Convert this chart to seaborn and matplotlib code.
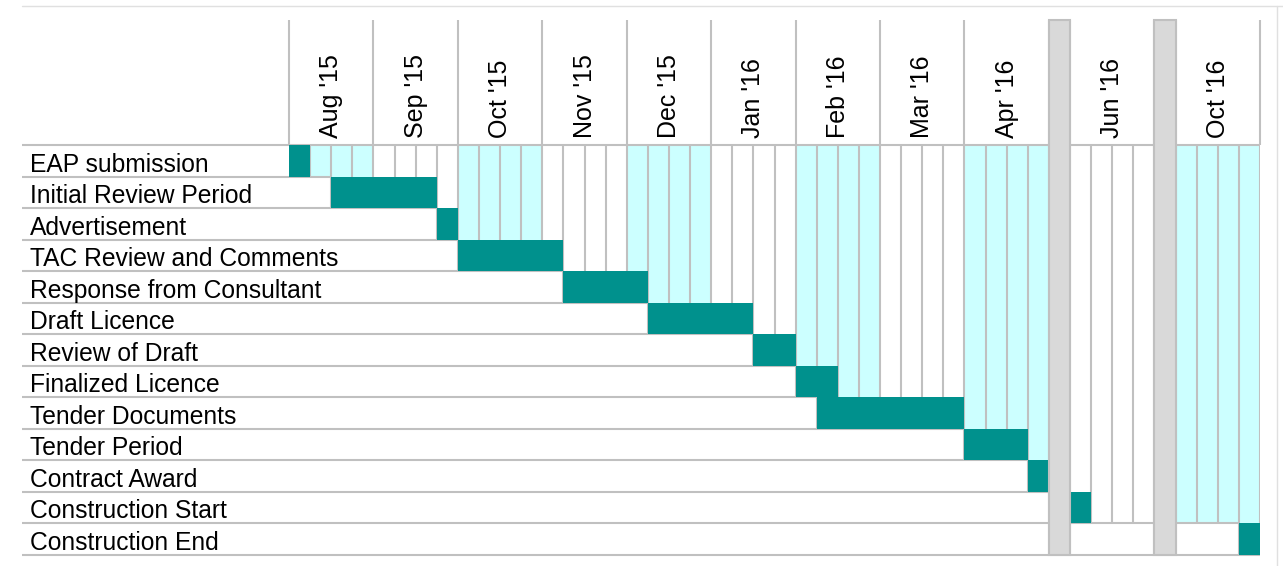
import numpy as np
import matplotlib
matplotlib.use("Agg")
import matplotlib.pyplot as plt
from matplotlib.colors import ListedColormap
from matplotlib.lines import Line2D
import seaborn as sns

# Timeline periods; the unnamed one-week periods are collapsed breaks (grey)
periods = ["Aug '15", "Sep '15", "Oct '15", "Nov '15", "Dec '15", "Jan '16",
           "Feb '16", "Mar '16", "Apr '16", "", "Jun '16", "", "Oct '16"]
period_weeks = [4, 4, 4, 4, 4, 4, 4, 4, 4, 1, 4, 1, 4]
period_shaded = [1, 0, 1, 0, 1, 0, 1, 0, 1, 0, 0, 0, 1]
period_break = [0, 0, 0, 0, 0, 0, 0, 0, 0, 1, 0, 1, 0]

# Tasks: start week column and duration in weeks
tasks = ["EAP submission", "Initial Review Period", "Advertisement",
         "TAC Review and Comments", "Response from Consultant", "Draft Licence",
         "Review of Draft", "Finalized Licence", "Tender Documents",
         "Tender Period", "Contract Award", "Construction Start",
         "Construction End"]
task_start = [0, 2, 7, 8, 13, 17, 22, 24, 25, 32, 35, 37, 45]
task_weeks = [1, 5, 1, 5, 4, 5, 2, 2, 7, 3, 1, 1, 1]

TEAL = "#00918D"
CYAN = "#CCFFFF"
BREAK = "#D9D9D9"
GRID = "#C0C0C0"

sns.set_theme(style="white")
plt.rcParams["font.family"] = ["Liberation Sans", "DejaVu Sans"]

n_rows = len(tasks)
col_shaded = np.repeat(period_shaded, period_weeks)
col_break = np.repeat(period_break, period_weeks)
n_cols = len(col_shaded)
starts = np.array(task_start)

# last row in which each week column is "open" (staircase layout)
last_row = np.array([(starts <= c).sum() - 1 for c in range(n_cols)])
last_row[col_break == 1] = n_rows - 1

mat = np.zeros((n_rows, n_cols))
for c in range(n_cols):
    if col_break[c]:
        mat[:, c] = 2
    elif col_shaded[c]:
        mat[: last_row[c] + 1, c] = 1

W, H = 1283, 566
fig = plt.figure(figsize=(W / 100, H / 100), dpi=100)
ax = fig.add_axes([289 / W, 11 / H, 971 / W, 410 / H])

sns.heatmap(mat, cmap=ListedColormap(["white", CYAN, BREAK]), vmin=-0.5,
            vmax=2.5, cbar=False, ax=ax, xticklabels=False,
            yticklabels=tasks)

row_px = 410 / n_rows
col_px = 971 / n_cols
hdr = 125 / row_px        # header height in rows
lab_w = 267 / col_px      # label column width in weeks
lw = 1.5

# horizontal row borders (only across the blank part left of the next bar)
ax.hlines(0, -lab_w, n_cols, color=GRID, lw=lw, clip_on=False, zorder=2)
for r in range(n_rows):
    xmax = task_start[r + 1] if r + 1 < n_rows else n_cols
    ax.hlines(r + 1, -lab_w, xmax, color=GRID, lw=lw, clip_on=False, zorder=2)

# vertical week borders
bounds = np.cumsum([0] + period_weeks)
for b in range(n_cols + 1):
    left = last_row[b - 1] if b > 0 else -1
    right = last_row[b] if b < n_cols else -1
    bottom = max(left, right) + 1
    if bottom > 0:
        ax.vlines(b, 0, bottom, color=GRID, lw=lw, zorder=2)
    if b in bounds:
        ax.vlines(b, -hdr, 0, color=GRID, lw=lw, clip_on=False, zorder=2)

# task bars
ax.barh(np.arange(n_rows) + 0.5, task_weeks, left=task_start, height=1.0,
        color=TEAL, lw=0, zorder=3)

# break columns
brk = np.where(col_break == 1)[0]
bars = ax.bar(brk + 0.5, n_rows + hdr, bottom=-hdr, width=1.0, color=BREAK,
              edgecolor=GRID, lw=lw, zorder=4)
for p in bars:
    p.set_clip_on(False)

ax.set_xlim(0, n_cols)
ax.set_ylim(n_rows, 0)

# month labels on top
centers = [(bounds[i] + bounds[i + 1]) / 2 for i in range(len(periods)) if periods[i]]
ax.xaxis.tick_top()
ax.set_xticks(centers)
ax.set_xticklabels([p for p in periods if p], rotation=90, fontsize=18,
                   color="black")
ax.tick_params(axis="x", length=0, pad=5)

# task labels, left aligned at the sheet's label column
ax.set_yticks(np.arange(n_rows) + 1 - 5 / row_px)
ax.set_yticklabels(tasks, ha="left", va="baseline", fontsize=17.7,
                   rotation=0, color="black")
ax.tick_params(axis="y", length=0, pad=(289 - 30) * 0.72)
ax.set_axisbelow(False)
ax.yaxis.set_zorder(5)
for s in ax.spines.values():
    s.set_visible(False)

# faint sheet edges
fig.add_artist(Line2D([22 / W, 1], [1 - 6 / H, 1 - 6 / H], color="#E0E0E0", lw=1))
fig.add_artist(Line2D([1277 / W, 1277 / W], [0, 1 - 6 / H], color="#E0E0E0", lw=1))

fig.savefig("out.png", dpi=100)
